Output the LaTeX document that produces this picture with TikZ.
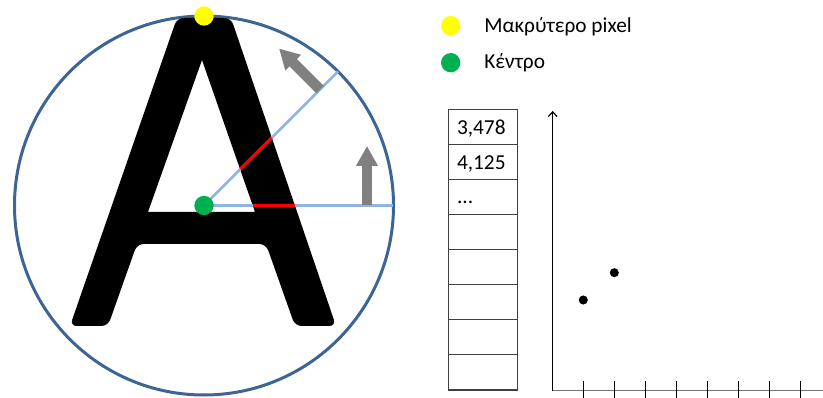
\documentclass[tikz,border=0pt]{standalone}
\usepackage{fontspec}
\setmainfont{Carlito}
\usetikzlibrary{positioning, calc, arrows.meta}

\definecolor{ringblue}{HTML}{3C6494}
\definecolor{lineblue}{HTML}{8EB4E3}
\definecolor{dotyellow}{HTML}{FFFF00}
\definecolor{dotgreen}{HTML}{00B050}
\definecolor{arrowgray}{HTML}{808080}

\begin{document}
\begin{tikzpicture}[
  x=0.75pt, y=-0.75pt,
  font=\fontsize{16pt}{19pt}\selectfont,
  ring/.style     = {draw=ringblue, line width=2.25pt},
  ray/.style      = {draw=lineblue, line width=2pt},
  hit/.style      = {draw=red, line width=2.3pt},
  marker/.style   = {circle, inner sep=0pt, minimum size=14.5pt},
  push/.style     = {-{Triangle[width=15.5pt,length=15pt]},
                     line width=7.9pt, draw=arrowgray},
  cell/.style     = {draw=black!75, line width=1pt, inner sep=0pt,
                     outer sep=0pt, minimum width=52pt, minimum height=26.3pt},
  cellval/.style  = {anchor=base west, inner sep=0pt},
  entry/.style    = {anchor=base west, inner sep=0pt},
  axisline/.style = {line width=0.9pt},
  tickline/.style = {line width=0.9pt},
  datapt/.style   = {circle, fill=black, inner sep=0pt, minimum size=6.8pt},
]
\useasboundingbox (0,0) rectangle (823,398);

% =============================================================
% Letter in the circle
% =============================================================
% Pixel coordinates, y grows downwards.
\coordinate (C) at (204,205.5);   % centre
\coordinate (E) at (393,205.5);   % end of horizontal ray
\coordinate (D) at (338,71.5);    % end of 45 degree ray

\draw[ring] (C) circle[radius=189.5];

\fill[even odd rule]
  [rounded corners=5pt] (70,326) -- (177,18) -- (231,18) -- (336,326)
  -- (295,326) -- (266,244) -- (137,244) -- (108,326) -- cycle
  [sharp corners] (202,60) -- (148,212) -- (255,212) -- cycle;

% --- rays and the parts inside the stroke ---
\draw[ray] (C) -- (E);
\draw[ray] (C) -- (D);
\draw[hit] ($(C)!0.258!(E)$) -- ($(C)!0.484!(E)$);
\draw[hit] ($(C)!0.272!(D)$) -- ($(C)!0.505!(D)$);

% --- direction of rotation ---
\coordinate (up0) at (367,205.5);
\coordinate (up1) at (367,146);
\draw[push] (up0) -- (up1);
\coordinate (ne0) at (320,89.5);
\coordinate (ne1) at (279,48.5);
\draw[push] (ne0) -- (ne1);

\node[marker, fill=dotyellow] (far) at (204,16) {};
\node[marker, fill=dotgreen]  (ctr) at (C) {};

% =============================================================
% Legend
% =============================================================
\node[marker, fill=dotyellow] (keyfar) at (450.7,25.7) {};
\node[marker, fill=dotgreen]  (keyctr) at (450.7,62.7) {};
\node[entry] (txtfar) at ($(keyfar)+(33.3,6.6)$) {Μακρύτερο pixel};
\node[entry] (txtctr) at ($(keyctr)+(33.3,6.3)$) {Κέντρο};

% =============================================================
% Table of values
% =============================================================
\node[cell] (R1) at (483,126.85) {};
\node[cell, below=0pt of R1] (R2) {};
\node[cell, below=0pt of R2] (R3) {};
\node[cell, below=0pt of R3] (R4) {};
\node[cell, below=0pt of R4] (R5) {};
\node[cell, below=0pt of R5] (R6) {};
\node[cell, below=0pt of R6] (R7) {};
\node[cell, below=0pt of R7] (R8) {};

\node[cellval] at ($(R1.west)+(8.4,8)$) {3,478};
\node[cellval] at ($(R2.west)+(8.4,8)$) {4,125};
\node[cellval] at ($(R3.west)+(8.4,7)$) {...};

% =============================================================
% Plot
% =============================================================
\coordinate (O)    at (552.7,390.7);
\coordinate (Xend) at (823,390.7);
\coordinate (Ytop) at (552.7,111);

\draw[axisline, draw=black!55] (O) -- (Xend);
\draw[axisline, -{Straight Barb[length=3.5pt,width=6.5pt]}] (O) -- (Ytop);
\foreach \tx in {583.3, 614.3, 645.4, 676.4, 707.4, 738.5, 769.5, 800.6}
  \draw[tickline] (\tx,381) -- (\tx,398);

\node[datapt] (pt1) at (583.3,300) {};
\node[datapt] (pt2) at (614.3,272.7) {};

\end{tikzpicture}
\end{document}
